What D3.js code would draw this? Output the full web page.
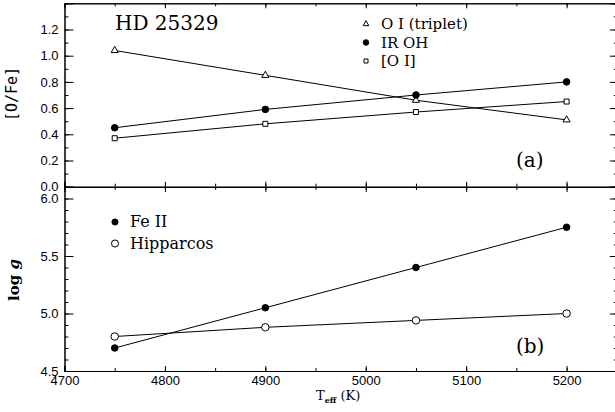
<!DOCTYPE html>
<html lang="en">
<head>
    <meta charset="UTF-8">
    <title>HD 25329</title>
    <style type="text/css">
        body { margin: 0; background: white; }
        .tick text { font: 13px "Liberation Sans", Arial, sans-serif; fill: black; }
        .domain, .tick line { stroke: black; stroke-width: 1; }
        .serif { font-family: "DejaVu Serif", "Liberation Serif", serif; fill: black; }
    </style>
</head>
<body>

<svg width="615" height="412"></svg>

<script src="https://d3js.org/d3.v7.min.js"></script>

<script>
    // temperatures (K)
    var teff = [4750, 4900, 5050, 5200];

    // panel (a): [O/Fe]
    var oiTriplet = [1.04, 0.85, 0.66, 0.51];
    var irOH = [0.45, 0.59, 0.70, 0.80];
    var forbiddenOI = [0.37, 0.48, 0.57, 0.65];

    // panel (b): log g
    var feII = [4.70, 5.05, 5.40, 5.75];
    var hipparcos = [4.80, 4.88, 4.94, 5.00];

    var xTicks = [4700, 4800, 4900, 5000, 5100, 5200];
    var topTicks = [0.0, 0.2, 0.4, 0.6, 0.8, 1.0, 1.2];
    var bottomTicks = [4.5, 5.0, 5.5, 6.0];

    var svg = d3.select("svg");

    var left = 64.5, right = 616.8;
    var x = d3.scaleLinear().domain([4700, 5250]).range([left, right]);
    var yTop = d3.scaleLinear().domain([0, 1.4]).range([186.7, 3.3]);
    var yBot = d3.scaleLinear().domain([4.5, 6.1]).range([371, 187]);

    var xMinor = d3.range(4700, 5251, 50);

    function frame(y, ticks, minor, showX) {
        // left axis with labels
        svg.append("g").attr("transform", "translate(" + left + ",0)")
            .call(d3.axisLeft(y).tickValues(minor).tickSize(-4).tickFormat(""));
        svg.append("g").attr("transform", "translate(" + left + ",0)")
            .call(d3.axisLeft(y).tickValues(ticks).tickSize(-9).tickPadding(6).tickFormat(d3.format(".1f")));
        // right axis, no labels
        svg.append("g").attr("transform", "translate(" + right + ",0)")
            .call(d3.axisRight(y).tickValues(minor).tickSize(-3).tickFormat(""));
        svg.append("g").attr("transform", "translate(" + right + ",0)")
            .call(d3.axisRight(y).tickValues(ticks).tickSize(-7).tickFormat(""));
        // top edge
        var y0 = y.range()[1];
        svg.append("g").attr("transform", "translate(0," + y0 + ")")
            .call(d3.axisTop(x).tickValues(xMinor).tickSize(-3).tickFormat(""));
        svg.append("g").attr("transform", "translate(0," + y0 + ")")
            .call(d3.axisTop(x).tickValues(xTicks).tickSize(-5).tickFormat(""));
        // bottom edge
        var y1 = y.range()[0];
        svg.append("g").attr("transform", "translate(0," + y1 + ")")
            .call(d3.axisBottom(x).tickValues(xMinor).tickSize(-3).tickFormat(""));
        svg.append("g").attr("transform", "translate(0," + y1 + ")")
            .call(d3.axisBottom(x).tickValues(xTicks).tickSize(-5).tickPadding(5)
                .tickFormat(showX ? d3.format("d") : ""));
    }

    frame(yTop, topTicks, d3.range(0, 1.41, 0.1), false);
    frame(yBot, bottomTicks, d3.range(4.5, 6.11, 0.1), true);

    function series(vals, y, symbol, size, filled) {
        var pts = teff.map(function (t, i) { return [x(t), y(vals[i])]; });
        svg.append("path")
            .attr("d", d3.line()(pts))
            .attr("fill", "none")
            .attr("stroke", "black")
            .attr("stroke-width", 1);
        svg.selectAll(null)
            .data(pts)
            .enter().append("path")
            .attr("transform", function (d) { return "translate(" + d[0] + "," + d[1] + ")"; })
            .attr("d", d3.symbol().type(symbol).size(size))
            .attr("fill", filled ? "black" : "white")
            .attr("stroke", "black")
            .attr("stroke-width", 1);
    }

    series(oiTriplet, yTop, d3.symbolTriangle, 22, false);
    series(irOH, yTop, d3.symbolCircle, 34, true);
    series(forbiddenOI, yTop, d3.symbolSquare, 25, false);

    series(feII, yBot, d3.symbolCircle, 34, true);
    series(hipparcos, yBot, d3.symbolCircle, 44, false);

    // legends
    function legend(items, x0, y0, step, fs) {
        items.forEach(function (it, i) {
            svg.append("path")
                .attr("transform", "translate(" + x0 + "," + (y0 + i * step - 5) + ")")
                .attr("d", d3.symbol().type(it[1]).size(it[2]))
                .attr("fill", it[3] ? "black" : "white")
                .attr("stroke", "black");
            svg.append("text").attr("class", "serif")
                .attr("x", x0 + 15).attr("y", y0 + i * step)
                .style("font-size", fs + "px")
                .text(it[0]);
        });
    }

    legend([["O I (triplet)", d3.symbolTriangle, 14, false],
            ["IR OH", d3.symbolCircle, 24, true],
            ["[O I]", d3.symbolSquare, 16, false]], 366, 29, 18.5, 15);

    legend([["Fe II", d3.symbolCircle, 30, true],
            ["Hipparcos", d3.symbolCircle, 40, false]], 115, 227, 21.5, 16);

    // titles and panel letters
    svg.append("text").attr("class", "serif")
        .attr("x", 115).attr("y", 30)
        .style("font-size", "20px")
        .text("HD 25329");

    svg.append("text").attr("class", "serif")
        .attr("x", 516).attr("y", 167)
        .style("font-size", "20px")
        .text("(a)");

    svg.append("text").attr("class", "serif")
        .attr("x", 516).attr("y", 353)
        .style("font-size", "20px")
        .text("(b)");

    // axis labels
    svg.append("text")
        .attr("transform", "translate(17,94) rotate(-90)")
        .attr("text-anchor", "middle")
        .style("font", "15px 'DejaVu Sans Mono', monospace")
        .text("[O/Fe]");

    var lg = svg.append("text").attr("class", "serif")
        .attr("transform", "translate(19,280) rotate(-90)")
        .attr("text-anchor", "middle")
        .style("font-size", "15px")
        .style("font-weight", "bold");
    lg.append("tspan").text("log ");
    lg.append("tspan").style("font-style", "italic").text("g");

    var xl = svg.append("text").attr("class", "serif")
        .attr("x", 316).attr("y", 400)
        .style("font-size", "13px");
    xl.append("tspan").text("T");
    xl.append("tspan").attr("dy", 3).style("font-size", "8px").style("font-weight", "bold").text("eff");
    xl.append("tspan").attr("dy", -3).text(" (K)");
</script>

</body>
</html>
